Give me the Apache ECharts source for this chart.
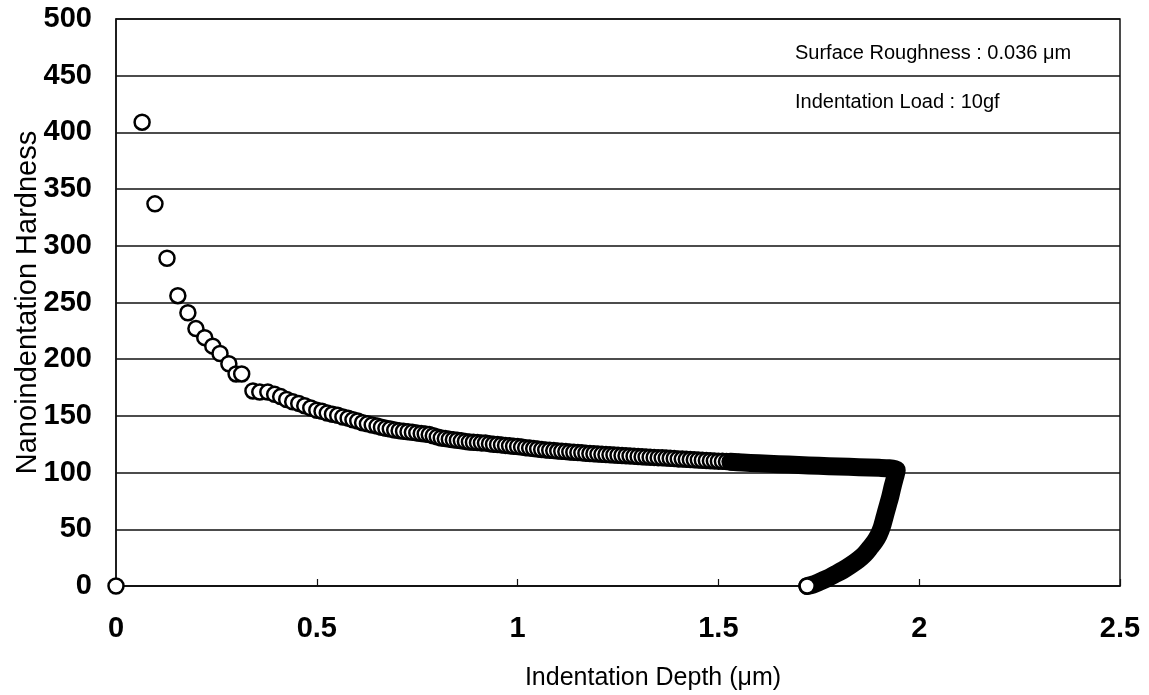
<!DOCTYPE html>
<html>
<head>
<meta charset="utf-8">
<script src="https://cdn.jsdelivr.net/npm/echarts@6/dist/echarts.min.js"></script>
<style>
  html, body { margin: 0; padding: 0; background: #fff; }
  #chart { width: 1149px; height: 695px; }
</style>
</head>
<body>
<div id="chart"></div>
<script>
// Axis ticks
const xTicks = [0, 0.5, 1, 1.5, 2, 2.5];
const yTicks = [0, 50, 100, 150, 200, 250, 300, 350, 400, 450, 500];

// Notes printed inside the plot
const notes = ['Surface Roughness : 0.036 μm', 'Indentation Load : 10gf'];

// Loading branch, individual readings (depth in μm, hardness)
const loadDepth = [
  0, 0.065, 0.097, 0.127, 0.154, 0.179, 0.199, 0.221, 0.241, 0.259, 0.281, 0.299, 0.313,
  0.341, 0.358, 0.378, 0.395, 0.41, 0.425, 0.44, 0.455, 0.47, 0.485, 0.5, 0.513, 0.526,
  0.539, 0.552, 0.565, 0.578, 0.59, 0.602, 0.614, 0.626, 0.638, 0.65, 0.661, 0.672, 0.683,
  0.694, 0.705, 0.716, 0.727, 0.738, 0.749, 0.76, 0.77, 0.78, 0.79, 0.8, 0.81, 0.82, 0.83,
  0.84, 0.85, 0.86, 0.87, 0.88, 0.89, 0.9, 0.91, 0.92, 0.93, 0.94, 0.95, 0.96, 0.97, 0.98,
  0.99, 1.0, 1.01, 1.02, 1.03, 1.04, 1.05, 1.06, 1.07, 1.08, 1.09, 1.1, 1.11, 1.12, 1.13,
  1.14, 1.15, 1.16, 1.17, 1.18, 1.19, 1.2, 1.21, 1.22, 1.23, 1.24, 1.25, 1.26, 1.27, 1.28,
  1.29, 1.3, 1.31, 1.32, 1.33, 1.34, 1.35, 1.36, 1.37, 1.38, 1.39, 1.4, 1.41, 1.42, 1.43,
  1.44, 1.45, 1.46, 1.47, 1.48, 1.49, 1.5, 1.51, 1.52, 1.53, 1.54, 1.55
];
const loadHardness = [
  0, 409, 337, 289, 256, 241, 227, 219, 211.5, 205, 196, 187, 187,
  172, 171, 171, 169, 167, 164.5, 162.5, 161, 159, 157, 155, 154, 152.5,
  151.5, 150.5, 149, 148, 146.5, 145.5, 144, 143, 142, 141, 140, 139, 138.5,
  137.5, 137, 136.5, 136, 135.5, 135, 134.5, 134, 133.5, 132.5, 131.5, 130.5, 130, 129.5,
  129, 128.5, 128, 127.5, 127, 126.8, 126.5, 126.2, 126, 125.5, 125, 124.8, 124.4, 124, 123.6,
  123.2, 123, 122.5, 122, 121.6, 121.2, 120.8, 120.4, 120, 119.7, 119.4, 119, 118.8, 118.5, 118.2,
  118, 117.7, 117.4, 117.1, 116.8, 116.6, 116.3, 116.1, 115.9, 115.7, 115.5, 115.3, 115.1, 114.9, 114.7,
  114.5, 114.2, 114, 113.8, 113.6, 113.4, 113.2, 113, 112.8, 112.6, 112.4, 112.1, 111.9, 111.7, 111.5,
  111.3, 111.1, 110.9, 110.7, 110.5, 110.3, 110.1, 109.9, 109.7, 109.5, 109.3, 109.1
];

// Densely sampled end of loading and the unloading branch (readings overlap into a solid trace)
const denseDepth = [
  1.53, 1.56, 1.6, 1.65, 1.7, 1.75, 1.8, 1.85, 1.9, 1.925, 1.94,
  1.944, 1.94, 1.934, 1.928, 1.921, 1.914, 1.907, 1.899, 1.889, 1.878, 1.864, 1.848,
  1.83, 1.81, 1.789, 1.77, 1.751, 1.735, 1.721
];
const denseHardness = [
  109.5, 108.9, 108.2, 107.4, 106.7, 106, 105.4, 104.8, 104.2, 103.8, 103,
  102, 96, 88, 79, 70, 61, 52, 45, 39, 34, 28, 23,
  18.5, 14, 10, 6.5, 3.5, 1.2, 0
];

// Last reading after full unloading
const finalDepth = [1.721];
const finalHardness = [0];

const zip = (xs, ys) => xs.map((x, i) => [x, ys[i]]);

const numFont = 'Liberation Sans Narrow, Liberation Sans, Arial, sans-serif';
const textFont = 'Liberation Sans, Arial, sans-serif';

const markerStyle = { color: '#ffffff', borderColor: '#000000', borderWidth: 2.5, opacity: 1 };

const chart = echarts.init(document.getElementById('chart'), null, { renderer: 'canvas' });
chart.setOption({
  animation: false,
  backgroundColor: '#ffffff',
  grid: {
    left: 116, right: 29, top: 19, bottom: 109,
    outerBoundsMode: 'none', containLabel: false,
    show: true, borderColor: '#111', borderWidth: 1.5, backgroundColor: 'transparent'
  },
  xAxis: {
    type: 'value',
    min: xTicks[0], max: xTicks[xTicks.length - 1], interval: 0.5,
    name: 'Indentation Depth (μm)',
    nameLocation: 'middle', nameGap: 80, nameMoveOverlap: false,
    nameTextStyle: { fontFamily: textFont, fontSize: 25, color: '#000', padding: [0, 0, 0, 70] },
    axisLine: { show: true, onZero: false, lineStyle: { color: '#111', width: 1.5 } },
    axisTick: { show: true, inside: true, length: 7, lineStyle: { color: '#111', width: 1.2 } },
    axisLabel: {
      margin: 28, fontFamily: numFont, fontWeight: 'bold', fontSize: 29, color: '#000',
      formatter: v => String(v)
    },
    splitLine: { show: false }
  },
  yAxis: {
    type: 'value',
    min: yTicks[0], max: yTicks[yTicks.length - 1], interval: 50,
    name: 'Nanoindentation Hardness',
    nameLocation: 'middle', nameGap: 74, nameMoveOverlap: false,
    nameTextStyle: { fontFamily: textFont, fontSize: 29, color: '#000' },
    axisLine: { show: true, lineStyle: { color: '#111', width: 1.5 } },
    axisTick: { show: false },
    axisLabel: {
      margin: 24, fontFamily: numFont, fontWeight: 'bold', fontSize: 29, color: '#000',
      formatter: v => String(v)
    },
    splitLine: { show: true, lineStyle: { color: '#111', width: 1.5 } }
  },
  graphic: [
    { type: 'text', left: 795, top: 43, z: 100,
      style: { text: notes[0], font: '20px ' + textFont, fill: '#000' } },
    { type: 'text', left: 795, top: 92, z: 100,
      style: { text: notes[1], font: '20px ' + textFont, fill: '#000' } }
  ],
  series: [
    {
      type: 'scatter',
      data: zip(loadDepth, loadHardness),
      symbol: 'circle', symbolSize: 15,
      itemStyle: markerStyle,
      clip: false, z: 3
    },
    {
      type: 'line',
      data: zip(denseDepth, denseHardness),
      symbol: 'none', smooth: 0.3,
      lineStyle: { color: '#000', width: 18, cap: 'round', join: 'round' },
      clip: false, z: 4
    },
    {
      type: 'scatter',
      data: zip(finalDepth, finalHardness),
      symbol: 'circle', symbolSize: 15,
      itemStyle: markerStyle,
      clip: false, z: 5
    }
  ]
});
</script>
</body>
</html>
